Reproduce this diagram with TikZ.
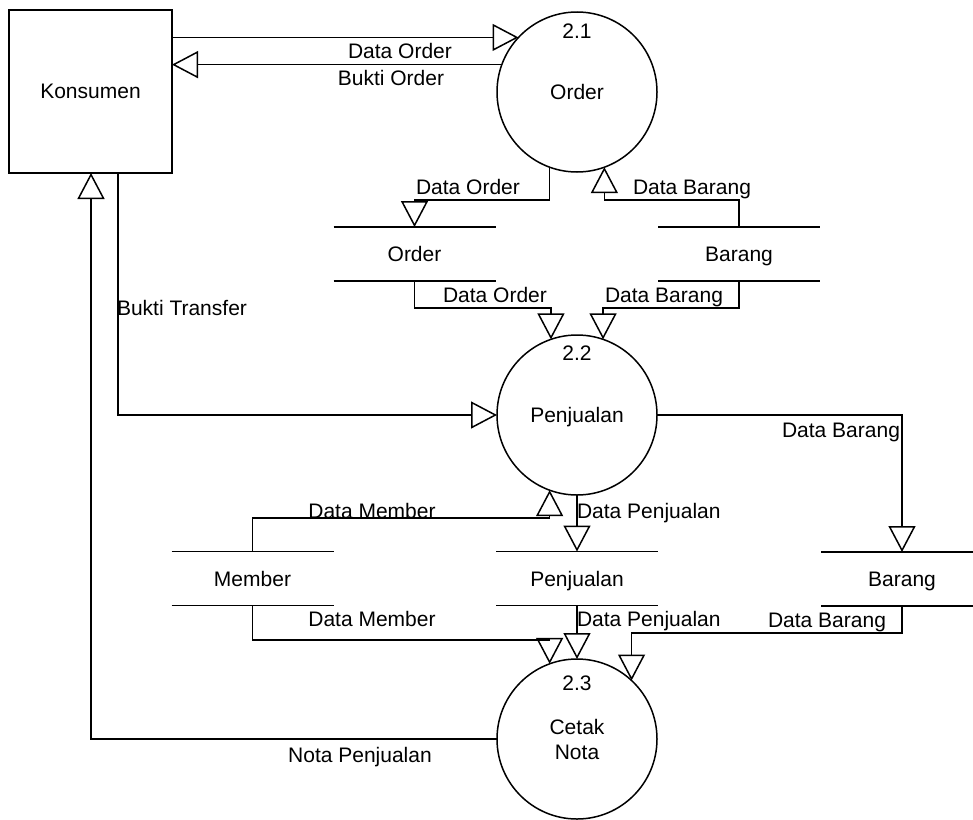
\documentclass[tikz,border=0pt]{standalone}
\usepackage{fontspec}
\setmainfont{Liberation Sans}
\usetikzlibrary{arrows.meta}
\begin{document}
\begin{tikzpicture}[x=1pt,y=-1pt,
  every node/.style={font=\fontsize{21}{25}\selectfont, inner sep=0pt, outer sep=0pt},
  line/.style={line width=1.5pt},
  flow/.style={line, -{Triangle[open,length=26pt,width=27pt,line width=1.5pt]}},
  entity/.style={draw, line width=1.5pt, rectangle, minimum width=163pt, minimum height=163pt},
  process/.style={draw, line width=1.5pt, circle, minimum size=160pt, align=center},
  store/.style={minimum width=162pt, minimum height=54pt, text height=19pt, text depth=4pt},
  lbl/.style={text height=15pt, text depth=4pt}
]
\useasboundingbox (0,0) rectangle (973,819);

% external entity and processes
\node[entity] (kons) at (90.5,91.5) {Konsumen};
\node[process] (p21) at (577,92) {Order};
\node[process,text height=19pt,text depth=4pt] (p22) at (577,415) {Penjualan};
\node[process] (p23) at (577,739) {Cetak\\Nota};
\node (n21) at ([yshift=61pt]p21.center) {2.1};
\node (n22) at ([yshift=62pt]p22.center) {2.2};
\node (n23) at ([yshift=56pt]p23.center) {2.3};

% data stores (open-ended, two horizontal lines)
\node[store] (so)  at (414.5,254) {Order};
\node[store] (sb1) at (739,254)   {Barang};
\node[store] (sm)  at (252.5,578.5) {Member};
\node[store] (sp)  at (577,578.5) {Penjualan};
\node[store] (sb2) at (902,579)   {Barang};
\foreach \s in {so,sb1,sm,sp,sb2}
  \draw[line] (\s.north west) -- (\s.north east) (\s.south west) -- (\s.south east);

% routing levels
\coordinate (y200) at (0,200);
\coordinate (y308) at (0,308);
\coordinate (y518) at (0,518);
\coordinate (y633) at (0,633);
\coordinate (y640) at (0,640);
\coordinate (x118) at (118,0);
\coordinate (x91)  at (91,0);

% data flows
\draw[flow] (kons.east |- p21.137) -- (p21.137);
\draw[flow] (p21.160) -- (kons.east |- p21.160);
\draw[flow] (p21.250) |- (so.north |- y200) -- (so.north);
\draw[flow] (sb1.north) |- (p21.290 |- y200) -- (p21.290);
\draw[flow] (so.south) |- (p22.109 |- y308) -- (p22.109);
\draw[flow] (sb1.south) |- (p22.71 |- y308) -- (p22.71);
\draw[flow] (kons.south -| x118) |- (p22.west);
\draw[flow] (p22.east) -| (sb2.north);
\draw[flow] (sm.north) |- (p22.250 |- y518) -- (p22.250);
\draw[flow] (p22.south) -- (sp.north);
\draw[flow] (sm.south) |- (p23.110 |- y640) -- (p23.110);
\draw[flow] (sp.south) -- (p23.north);
\draw[flow] (sb2.south) |- (p23.47 |- y633) -- (p23.47);
\draw[flow] (p23.west) -| (kons.south -| x91);

% flow labels
\node[lbl] (l1)  at (400,53) {Data Order};
\node[lbl] (l2)  at (391,80) {Bukti Order};
\node[lbl] (l3)  at (468,189) {Data Order};
\node[lbl] (l4)  at (692,189) {Data Barang};
\node[lbl] (l5)  at (495,297) {Data Order};
\node[lbl] (l6)  at (664,297) {Data Barang};
\node[lbl,anchor=west] (l7) at (117,310) {Bukti Transfer};
\node[lbl] (l8)  at (841,432) {Data Barang};
\node[lbl] (l9)  at (372,513) {Data Member};
\node[lbl,anchor=west] (l10) at (577,513) {Data Penjualan};
\node[lbl] (l11) at (372,621) {Data Member};
\node[lbl,anchor=west] (l12) at (577,621) {Data Penjualan};
\node[lbl] (l13) at (827,622) {Data Barang};
\node[lbl] (l14) at (360,757) {Nota Penjualan};
\end{tikzpicture}
\end{document}
